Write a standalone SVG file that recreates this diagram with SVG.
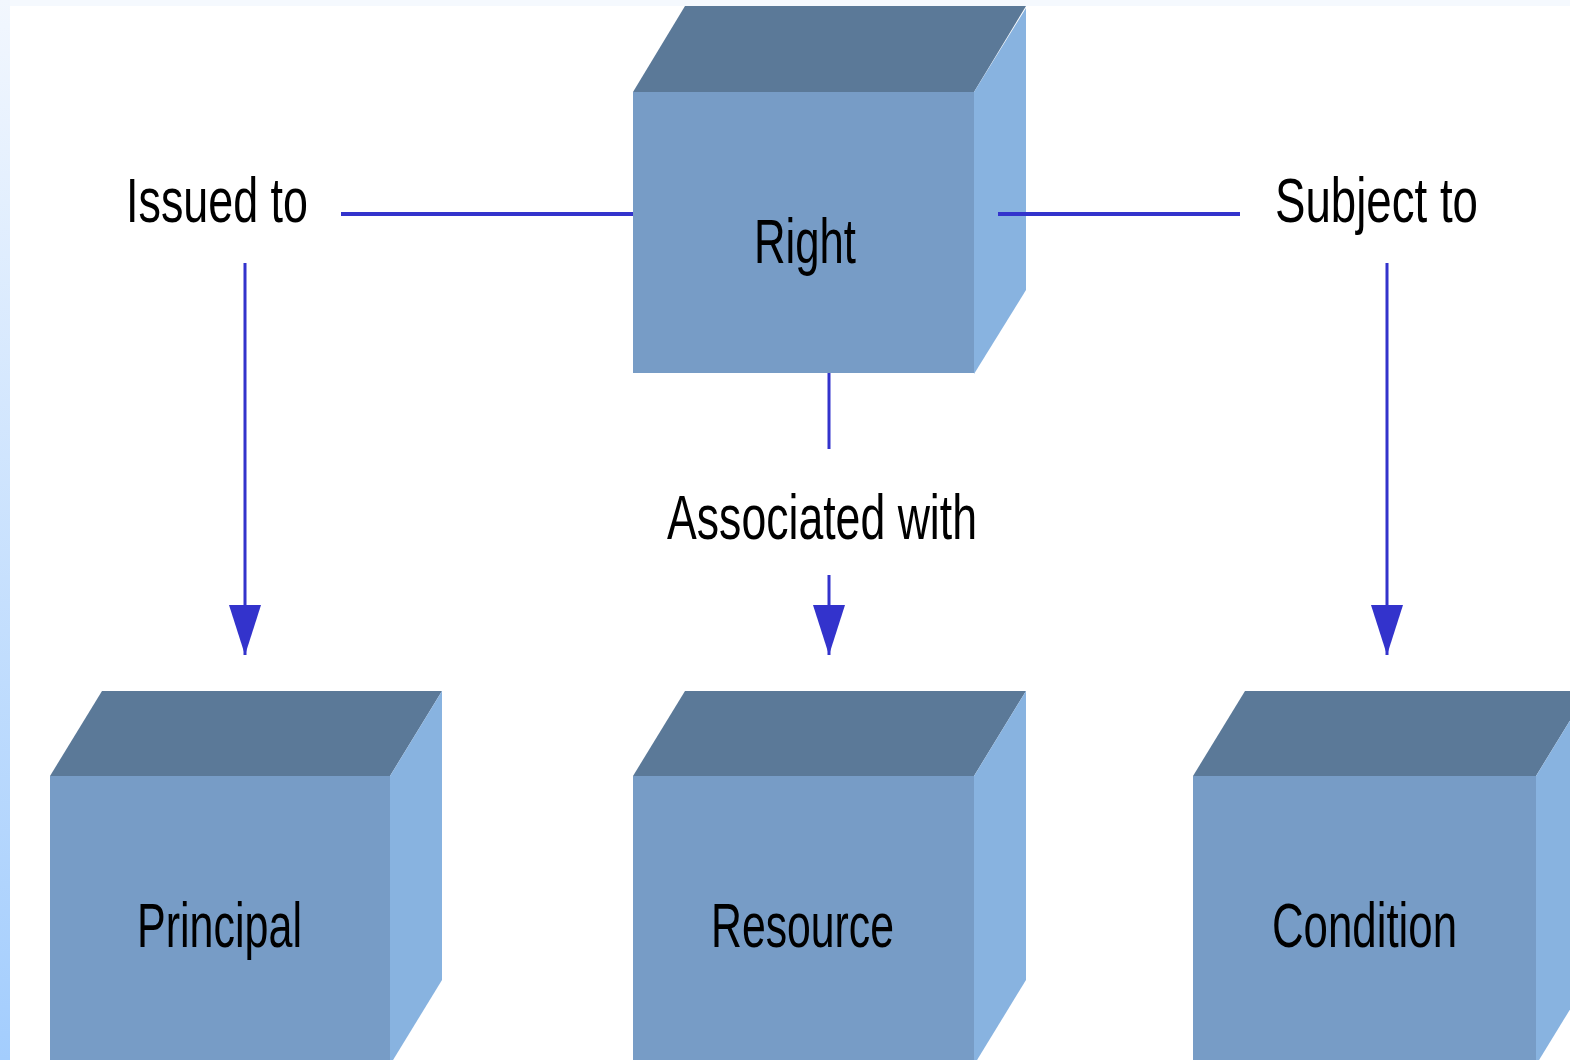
<svg xmlns="http://www.w3.org/2000/svg" width="1570" height="1060" viewBox="0 0 1570 1060">
<defs>
<linearGradient id="edge" x1="0" y1="0" x2="0" y2="1">
<stop offset="0" stop-color="#f2f7fe"/>
<stop offset="1" stop-color="#a3cdfd"/>
</linearGradient>
<marker id="arr" viewBox="0 0 50 32" refX="50" refY="16" markerWidth="50" markerHeight="32" markerUnits="userSpaceOnUse" orient="auto">
<path d="M0,0 L50,16 L0,32 Z" fill="#3333cc"/>
</marker>
</defs>
<style>
.front{fill:#779cc6}
.top{fill:#5b7998}
.side{fill:#88b3e0}
.lbl{font-family:"Liberation Sans",Arial,sans-serif;font-size:63px;fill:#000}
.con{stroke:#3333cc;stroke-width:3;fill:none}
.conh{stroke:#3333cc;stroke-width:4;fill:none}
</style>
<rect x="0" y="0" width="1570" height="1060" fill="#ffffff"/>
<rect x="0" y="0" width="1570" height="6" fill="#f5f9fe"/>
<rect x="0" y="0" width="10" height="1060" fill="url(#edge)"/>

<g id="node-right">
<polygon class="top" points="633,92 685,6 1026,6 974,92"/>
<polygon class="side" points="974,92 1026,8 1026,290 974,374"/>
<rect class="front" x="633" y="92" width="341" height="281"/>
<text class="lbl" x="754" y="263" textLength="102" lengthAdjust="spacingAndGlyphs">Right</text>
</g>

<g id="node-principal">
<polygon class="top" points="50,776 102,691 442,691 390,776"/>
<polygon class="side" points="390,776 442,691 442,980 390,1065"/>
<rect class="front" x="50" y="776" width="340" height="290"/>
<text class="lbl" x="137" y="947" textLength="165" lengthAdjust="spacingAndGlyphs">Principal</text>
</g>

<g id="node-resource">
<polygon class="top" points="633,776 685,691 1026,691 974,776"/>
<polygon class="side" points="974,776 1026,691 1026,980 974,1065"/>
<rect class="front" x="633" y="776" width="341" height="290"/>
<text class="lbl" x="711" y="947" textLength="183" lengthAdjust="spacingAndGlyphs">Resource</text>
</g>

<g id="node-condition">
<polygon class="top" points="1193,776 1245,691 1588,691 1536,776"/>
<polygon class="side" points="1536,776 1588,691 1588,980 1536,1065"/>
<rect class="front" x="1193" y="776" width="343" height="290"/>
<text class="lbl" x="1272" y="947" textLength="185" lengthAdjust="spacingAndGlyphs">Condition</text>
</g>

<g id="labels">
<text class="lbl" x="126" y="222" textLength="182" lengthAdjust="spacingAndGlyphs">Issued to</text>
<text class="lbl" x="1275" y="222" textLength="203" lengthAdjust="spacingAndGlyphs">Subject to</text>
<text class="lbl" x="667" y="539" textLength="310" lengthAdjust="spacingAndGlyphs">Associated with</text>
</g>

<g id="connectors">
<line class="conh" x1="341" y1="214" x2="633" y2="214"/>
<line class="conh" x1="998" y1="214" x2="1240" y2="214"/>
<line class="con" x1="829" y1="373" x2="829" y2="449"/>
<line class="con" x1="245" y1="263" x2="245" y2="655" marker-end="url(#arr)"/>
<line class="con" x1="829" y1="575" x2="829" y2="655" marker-end="url(#arr)"/>
<line class="con" x1="1387" y1="263" x2="1387" y2="655" marker-end="url(#arr)"/>
</g>
</svg>
